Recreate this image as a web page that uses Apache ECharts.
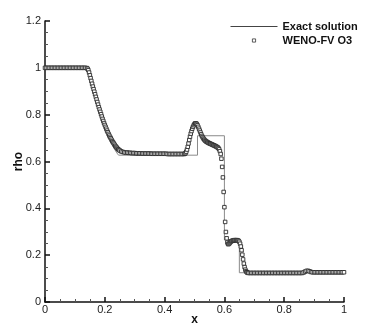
<!DOCTYPE html>
<html lang="en">
<head>
    <meta charset="UTF-8">
    <title>rho</title>
    <script src="https://cdn.jsdelivr.net/npm/echarts@6/dist/echarts.min.js"></script>
    <style>
        html, body { margin: 0; padding: 0; background: #fff; }
        #main { width: 374px; height: 332px; }
    </style>
</head>
<body>
<div id="main"></div>
<script>
    // axis ticks
    var xTicks = [0, 0.2, 0.4, 0.6, 0.8, 1];
    var yTicks = [0, 0.2, 0.4, 0.6, 0.8, 1, 1.2];

    // exact solution, [x, rho]
    var exact = [
        [0, 1], [0.143, 1], [0.15, 0.965], [0.16, 0.922], [0.17, 0.878], [0.18, 0.835],
        [0.19, 0.795], [0.2, 0.757], [0.21, 0.72], [0.22, 0.687], [0.23, 0.658],
        [0.24, 0.637], [0.246, 0.627], [0.51, 0.627], [0.51, 0.71], [0.6, 0.71],
        [0.6, 0.265], [0.65, 0.265], [0.65, 0.125], [1, 0.125]
    ];

    // WENO-FV O3 cells, [x, rho]
    var leftState = [
        [0, 1], [0.005, 1], [0.01, 1], [0.015, 1], [0.02, 1], [0.025, 1], [0.03, 1],
        [0.035, 1], [0.04, 1], [0.045, 1], [0.05, 1], [0.055, 1], [0.06, 1], [0.065, 1],
        [0.07, 1], [0.075, 1], [0.08, 1], [0.085, 1], [0.09, 1], [0.095, 1], [0.1, 1],
        [0.105, 1], [0.11, 1], [0.115, 1], [0.12, 1], [0.125, 1], [0.13, 1], [0.135, 1]
    ];
    var fan = [
        [0.14, 0.999], [0.1425, 0.996], [0.145, 0.99], [0.1475, 0.98], [0.15, 0.968],
        [0.1525, 0.956], [0.155, 0.944], [0.1575, 0.932], [0.16, 0.92], [0.1625, 0.909],
        [0.165, 0.898], [0.1675, 0.887], [0.17, 0.876], [0.1725, 0.865], [0.175, 0.854],
        [0.1775, 0.843], [0.18, 0.832], [0.1825, 0.822], [0.185, 0.812], [0.1875, 0.802],
        [0.19, 0.792], [0.1925, 0.782], [0.195, 0.773], [0.1975, 0.764], [0.2, 0.756],
        [0.2025, 0.748], [0.205, 0.74], [0.2075, 0.732], [0.21, 0.725], [0.2125, 0.718],
        [0.215, 0.711], [0.2175, 0.705], [0.22, 0.699], [0.2225, 0.693], [0.225, 0.687],
        [0.2275, 0.682], [0.23, 0.677], [0.2325, 0.672], [0.235, 0.667], [0.2375, 0.663],
        [0.24, 0.659], [0.2425, 0.655], [0.245, 0.652], [0.2475, 0.649], [0.25, 0.647],
        [0.255, 0.643], [0.26, 0.641], [0.265, 0.639]
    ];
    var plateau = [
        [0.27, 0.638], [0.275, 0.638], [0.28, 0.637], [0.285, 0.637], [0.29, 0.636],
        [0.295, 0.636], [0.3, 0.636], [0.305, 0.635], [0.31, 0.635], [0.315, 0.635],
        [0.32, 0.635], [0.325, 0.634], [0.33, 0.634], [0.335, 0.634], [0.34, 0.634],
        [0.345, 0.634], [0.35, 0.634], [0.355, 0.633], [0.36, 0.633], [0.365, 0.633],
        [0.37, 0.633], [0.375, 0.633], [0.38, 0.633], [0.385, 0.633], [0.39, 0.633],
        [0.395, 0.633], [0.4, 0.633], [0.405, 0.633], [0.41, 0.632], [0.415, 0.632],
        [0.42, 0.632], [0.425, 0.632], [0.43, 0.632], [0.435, 0.632], [0.44, 0.632],
        [0.445, 0.632], [0.45, 0.632], [0.455, 0.632], [0.46, 0.632], [0.465, 0.632]
    ];
    var contact = [
        [0.4675, 0.633], [0.47, 0.636], [0.4725, 0.642], [0.475, 0.651], [0.4775, 0.663],
        [0.48, 0.677], [0.4825, 0.692], [0.485, 0.706], [0.4875, 0.719], [0.49, 0.73],
        [0.4925, 0.74], [0.495, 0.748], [0.4975, 0.755], [0.5, 0.76], [0.5025, 0.763],
        [0.505, 0.763], [0.5075, 0.76], [0.51, 0.755], [0.5125, 0.748], [0.515, 0.74],
        [0.5175, 0.732], [0.52, 0.724], [0.5225, 0.716], [0.525, 0.709], [0.5275, 0.703],
        [0.53, 0.698], [0.5325, 0.694], [0.535, 0.69], [0.5375, 0.687], [0.54, 0.685],
        [0.5425, 0.683], [0.545, 0.681], [0.5475, 0.679], [0.55, 0.678], [0.5525, 0.676],
        [0.555, 0.675], [0.5575, 0.673], [0.56, 0.672], [0.5625, 0.67], [0.565, 0.669],
        [0.5675, 0.667], [0.57, 0.666], [0.5725, 0.664], [0.575, 0.662], [0.5775, 0.66],
        [0.58, 0.657], [0.5825, 0.652], [0.585, 0.644]
    ];
    var shock = [
        [0.5875, 0.632], [0.59, 0.612], [0.5925, 0.577], [0.595, 0.532], [0.5975, 0.47],
        [0.6, 0.405], [0.6025, 0.342], [0.605, 0.299], [0.6075, 0.272], [0.61, 0.254],
        [0.6125, 0.247], [0.615, 0.248], [0.6175, 0.252], [0.62, 0.256], [0.6225, 0.259],
        [0.625, 0.261], [0.6275, 0.262], [0.63, 0.263], [0.6325, 0.264], [0.635, 0.264],
        [0.6375, 0.264], [0.64, 0.264], [0.6425, 0.264], [0.645, 0.263], [0.6475, 0.261],
        [0.65, 0.257], [0.6525, 0.249], [0.655, 0.237], [0.6575, 0.221], [0.66, 0.202],
        [0.6625, 0.182], [0.665, 0.164], [0.6675, 0.149], [0.67, 0.138], [0.6725, 0.131],
        [0.675, 0.127], [0.6775, 0.125], [0.68, 0.124]
    ];
    var rightState = [
        [0.685, 0.124], [0.69, 0.124], [0.695, 0.124], [0.7, 0.124], [0.705, 0.124],
        [0.71, 0.124], [0.715, 0.124], [0.72, 0.124], [0.725, 0.124], [0.73, 0.124],
        [0.735, 0.124], [0.74, 0.124], [0.745, 0.124], [0.75, 0.124], [0.755, 0.124],
        [0.76, 0.124], [0.765, 0.124], [0.77, 0.124], [0.775, 0.124], [0.78, 0.124],
        [0.785, 0.124], [0.79, 0.124], [0.795, 0.124], [0.8, 0.124], [0.805, 0.124],
        [0.81, 0.124], [0.815, 0.124], [0.82, 0.124], [0.825, 0.124], [0.83, 0.124],
        [0.835, 0.124], [0.84, 0.124], [0.845, 0.124], [0.85, 0.124], [0.855, 0.124],
        [0.86, 0.124], [0.865, 0.126], [0.87, 0.13], [0.875, 0.133], [0.88, 0.133],
        [0.885, 0.131], [0.89, 0.128], [0.895, 0.127], [0.9, 0.127], [0.905, 0.127],
        [0.91, 0.127], [0.915, 0.127], [0.92, 0.127], [0.925, 0.127], [0.93, 0.127],
        [0.935, 0.127], [0.94, 0.127], [0.945, 0.127], [0.95, 0.127], [0.955, 0.127],
        [0.96, 0.127], [0.965, 0.127], [0.97, 0.127], [0.975, 0.127], [0.98, 0.127],
        [0.985, 0.127], [0.99, 0.127], [0.995, 0.127], [1, 0.127]
    ];

    var weno = [].concat(leftState, fan, plateau, contact, shock, rightState);

    var chart = echarts.init(document.getElementById('main'), null, {renderer: 'canvas'});
    var font = 'Liberation Sans, Arial, Helvetica, sans-serif';
    chart.setOption({
        animation: false,
        backgroundColor: '#fff',
        grid: {left: 45, right: 30, top: 21, bottom: 30, containLabel: false, outerBoundsMode: 'none'},
        legend: {
            orient: 'vertical',
            left: 230,
            top: 21,
            padding: 0,
            itemWidth: 47,
            itemHeight: 4,
            itemGap: 3,
            textStyle: {fontFamily: font, fontWeight: 'bold', fontSize: 11, color: '#111'},
            data: [
                {name: 'Exact solution', itemStyle: {opacity: 0}, lineStyle: {width: 1, color: '#444'}},
                {name: 'WENO-FV O3', itemStyle: {color: '#fff', borderColor: '#333', borderWidth: 0.8}}
            ]
        },
        xAxis: {
            type: 'value',
            min: 0, max: 1, interval: 0.2,
            name: 'x', nameLocation: 'middle', nameGap: 12, nameMoveOverlap: false,
            nameTextStyle: {fontFamily: font, fontWeight: 'bold', fontSize: 12, color: '#111'},
            axisLine: {onZero: false, lineStyle: {color: '#111', width: 1.5}},
            axisTick: {inside: true, length: 5, lineStyle: {color: '#111', width: 1.5}},
            minorTick: {show: true, splitNumber: 4, length: 3, lineStyle: {color: '#555', width: 1}},
            axisLabel: {margin: 2, fontFamily: font, fontSize: 11, color: '#222',
                formatter: function (v) { return xTicks.indexOf(v) >= 0 ? String(v) : ''; }},
            splitLine: {show: false}
        },
        yAxis: {
            type: 'value',
            min: 0, max: 1.2, interval: 0.2,
            name: 'rho', nameLocation: 'middle', nameGap: 20, nameRotate: 90, nameMoveOverlap: false,
            nameTextStyle: {fontFamily: font, fontWeight: 'bold', fontSize: 12, color: '#111'},
            axisLine: {onZero: false, lineStyle: {color: '#111', width: 1.5}},
            axisTick: {inside: true, length: 5, lineStyle: {color: '#111', width: 1.5}},
            minorTick: {show: true, splitNumber: 4, length: 3, lineStyle: {color: '#555', width: 1}},
            axisLabel: {margin: 4, fontFamily: font, fontSize: 11, color: '#222',
                formatter: function (v) { return yTicks.indexOf(+v.toFixed(1)) >= 0 ? String(+v.toFixed(1)) : ''; }},
            splitLine: {show: false}
        },
        series: [
            {
                name: 'Exact solution',
                type: 'line',
                data: exact,
                symbol: 'none',
                lineStyle: {color: '#8a8a8a', width: 1},
                itemStyle: {color: '#8a8a8a'},
                z: 1
            },
            {
                name: 'WENO-FV O3',
                type: 'line',
                data: weno,
                symbol: 'rect',
                symbolSize: 3.5,
                showAllSymbol: true,
                lineStyle: {width: 0},
                itemStyle: {color: '#fff', borderColor: '#2a2a2a', borderWidth: 0.9},
                z: 2
            }
        ]
    });
</script>
</body>
</html>
